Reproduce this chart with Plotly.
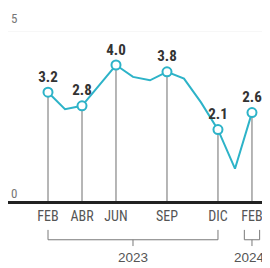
import plotly.graph_objects as go

months = ["FEB", "MAR", "ABR", "MAY", "JUN", "JUL", "AGO", "SEP", "OCT", "NOV", "DIC", "ENE", "FEB"]
years = [2023] * 11 + [2024] * 2
values = [3.2, 2.7, 2.8, 3.4, 4.0, 3.65, 3.55, 3.8, 3.6, 2.9, 2.1, 0.95, 2.6]
labeled = [0, 2, 4, 7, 10, 12]
y_ticks = [0, 5]

x = list(range(len(months)))
lx = [x[i] for i in labeled]
ly = [values[i] for i in labeled]
ltext = [f"{values[i]:.1f}" for i in labeled]

TEAL = "#2db3c8"
FONT_N = "Liberation Sans Narrow, Roboto Condensed, Liberation Sans, Arial"

fig = go.Figure()

# drop lines
fig.add_trace(go.Scatter(
    x=lx, y=ly, mode="markers", marker=dict(size=1, color="rgba(0,0,0,0)"),
    error_y=dict(type="data", symmetric=False, array=[0] * len(ly), arrayminus=ly,
                 color="#6e6e6e", thickness=1, width=0),
    hoverinfo="skip", showlegend=False))

# main line
fig.add_trace(go.Scatter(
    x=x, y=values, mode="lines", line=dict(color=TEAL, width=2),
    showlegend=False))

# markers + labels
fig.add_trace(go.Scatter(
    x=lx, y=ly, mode="markers+text", text=ltext,
    textposition="top center",
    textfont=dict(family=FONT_N, size=15, color="#333333", weight="bold"),
    marker=dict(symbol="circle", size=9, color="white", line=dict(color=TEAL, width=2)),
    cliponaxis=False, showlegend=False))

# gridline at 5
fig.add_hline(y=y_ticks[-1], line=dict(color="#f0f0f0", width=1), layer="below")

# y labels
for v, ys in zip(y_ticks, [-2, 3]):
    fig.add_annotation(x=-2.3, y=v, xref="x", yref="y", text=str(v), showarrow=False,
                       xanchor="left", yanchor="bottom", yshift=ys,
                       font=dict(family=FONT_N, size=13, color="#777777"))

# year brackets
for yr in sorted(set(years)):
    idx = [i for i, yy in enumerate(years) if yy == yr]
    tick_idx = [i for i in idx if i in labeled]
    x0, x1 = min(tick_idx), max(tick_idx)
    pad = 0.45 if x0 == x1 else 0.0
    a, b = x0 - pad, x1 + pad
    mid = (a + b) / 2
    fig.add_shape(type="path", xref="x", yref="paper",
                  path=f"M {a} -0.17 L {a} -0.228 L {b} -0.228 L {b} -0.17",
                  line=dict(color="#7a7a7a", width=1))
    fig.add_shape(type="line", xref="x", yref="paper", x0=mid, x1=mid, y0=-0.228, y1=-0.265,
                  line=dict(color="#7a7a7a", width=1))
    fig.add_annotation(x=mid, y=-0.335, xref="x", yref="paper", text=str(yr), showarrow=False,
                       yanchor="middle", xshift=-2 if pad else 0,
                       font=dict(family="Liberation Sans, Arial", size=13.5, color="#555555"))

# page body has an 8px margin, so the figure is 262x260 placed at (8, 8)
fig.update_layout(
    width=262, height=260,
    margin=dict(l=0, r=0, t=23, b=67),
    paper_bgcolor="white", plot_bgcolor="white",
    xaxis=dict(range=[-2.353, 13.06], showgrid=False, zeroline=False,
               showline=True, linecolor="#222222", linewidth=2.5,
               tickmode="array", tickvals=lx, ticktext=[months[i] for i in labeled],
               ticks="", tickfont=dict(family=FONT_N, size=14, color="#555555")),
    yaxis=dict(range=[0, 5], showgrid=False, zeroline=False, showticklabels=False,
               showline=False),
    showlegend=False,
)

fig.write_html("out.html")
